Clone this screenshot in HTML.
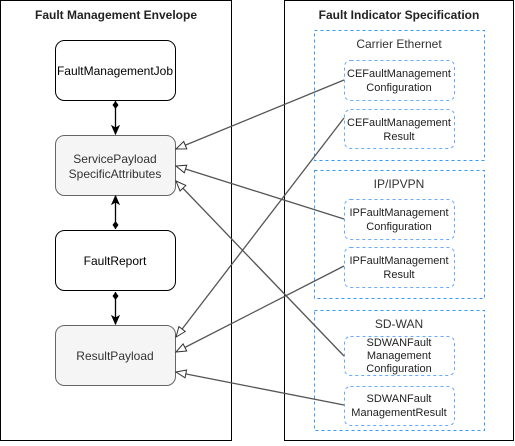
<!DOCTYPE html>
<html><head><style>
html,body{margin:0;padding:0;background:#fff;}
svg text{font-family:"Liberation Sans",Arial,sans-serif;}
</style></head><body>
<svg width="515" height="441" viewBox="0 0 515 441" xmlns="http://www.w3.org/2000/svg">
<defs>
<marker id="tri" markerWidth="12" markerHeight="10" refX="11" refY="5" orient="auto" markerUnits="userSpaceOnUse">
<path d="M1,1 L11,5 L1,9 Z" fill="#fff" stroke="#333" stroke-width="1"/>
</marker>
<marker id="arr" markerWidth="10" markerHeight="10" refX="9" refY="5" orient="auto" markerUnits="userSpaceOnUse">
<path d="M1,1.5 L9,5 L1,8.5 L3,5 Z" fill="#000" stroke="#000"/>
</marker>
<marker id="dia" markerWidth="12" markerHeight="8" refX="1" refY="4" orient="auto" markerUnits="userSpaceOnUse">
<path d="M1,4 L5,1 L9,4 L5,7 Z" fill="#000"/>
</marker>
</defs>
<rect x="0.5" y="0.5" width="231" height="440" fill="#fff" stroke="#000"/>
<text x="116" y="19" font-size="12" font-weight="bold" text-anchor="middle" fill="#222">Fault Management Envelope</text>
<rect x="284.5" y="0.5" width="229" height="440" fill="#fff" stroke="#000"/>
<text x="399" y="19" font-size="12" font-weight="bold" text-anchor="middle" fill="#222">Fault Indicator Specification</text>

<g fill="none" stroke="#3399ff" stroke-dasharray="3,3">
<rect x="314.5" y="30.5" width="170" height="130"/>
<rect x="314.5" y="170.5" width="170" height="128"/>
<rect x="314.5" y="310.5" width="170" height="120"/>
</g>
<g font-size="12" text-anchor="middle" fill="#333">
<text x="399" y="48">Carrier Ethernet</text>
<text x="399" y="188">IP/IPVPN</text>
<text x="399" y="328">SD-WAN</text>
</g>
<g fill="#fff" stroke="#66aaff" stroke-dasharray="3,3">
<rect x="344.5" y="60.5" width="110" height="40" rx="6"/>
<rect x="344.5" y="109.5" width="110" height="39" rx="6"/>
<rect x="344.5" y="199.5" width="110" height="40" rx="6"/>
<rect x="344.5" y="247.5" width="110" height="40" rx="6"/>
<rect x="344.5" y="336.5" width="110" height="39" rx="6"/>
<rect x="344.5" y="386.5" width="110" height="39" rx="6"/>
</g>
<g font-size="11" text-anchor="middle" fill="#222">
<text x="399" y="77">CEFaultManagement</text><text x="399" y="91">Configuration</text>
<text x="399" y="126">CEFaultManagement</text><text x="399" y="140">Result</text>
<text x="399" y="216">IPFaultManagement</text><text x="399" y="230">Configuration</text>
<text x="399" y="264">IPFaultManagement</text><text x="399" y="278">Result</text>
<text x="399" y="346">SDWANFault</text><text x="399" y="359">Management</text><text x="399" y="372">Configuration</text>
<text x="399" y="402">SDWANFault</text><text x="399" y="416">ManagementResult</text>
</g>

<rect x="55.5" y="40.5" width="120" height="60" rx="9" fill="#fff" stroke="#000"/>
<rect x="55.5" y="135.5" width="120" height="60" rx="9" fill="#f5f5f5" stroke="#666"/>
<rect x="55.5" y="230.5" width="120" height="60" rx="9" fill="#fff" stroke="#000"/>
<rect x="55.5" y="325.5" width="120" height="60" rx="9" fill="#f5f5f5" stroke="#666"/>
<g font-size="12" text-anchor="middle">
<text x="115" y="75" fill="#000">FaultManagementJob</text>
<text x="115" y="163" fill="#333">ServicePayload</text><text x="115" y="178" fill="#333">SpecificAttributes</text>
<text x="115" y="265" fill="#000">FaultReport</text>
<text x="115" y="360" fill="#333">ResultPayload</text>
</g>

<g stroke="#000" stroke-width="1.3" fill="none">
<line x1="115.5" y1="101" x2="115.5" y2="134" marker-start="url(#dia)" marker-end="url(#arr)"/>
<line x1="115.5" y1="229" x2="115.5" y2="196" marker-start="url(#dia)" marker-end="url(#arr)"/>
<line x1="115.5" y1="292" x2="115.5" y2="324" marker-start="url(#dia)" marker-end="url(#arr)"/>
</g>
<g stroke="#555" stroke-width="1.3" fill="none">
<line x1="344" y1="80" x2="176" y2="149" marker-end="url(#tri)"/>
<line x1="344" y1="118" x2="176" y2="337" marker-end="url(#tri)"/>
<line x1="344" y1="219" x2="176" y2="166" marker-end="url(#tri)"/>
<line x1="344" y1="266" x2="176" y2="352" marker-end="url(#tri)"/>
<line x1="344" y1="356" x2="176" y2="181" marker-end="url(#tri)"/>
<line x1="344" y1="405" x2="176" y2="372" marker-end="url(#tri)"/>
</g>
</svg>
</body></html>
